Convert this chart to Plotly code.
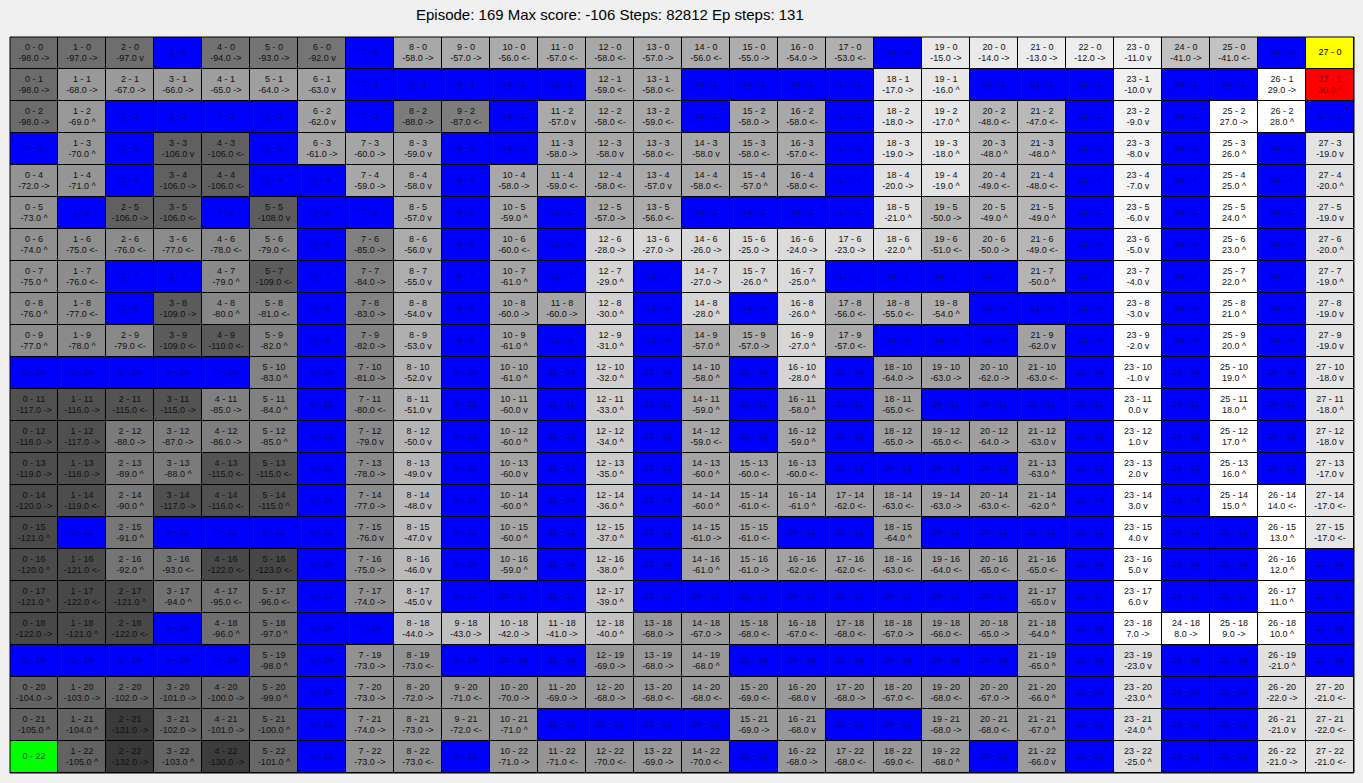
import numpy as np
import plotly.graph_objects as go

# ---------------- data ----------------
title_text = "Episode: 169 Max score: -106 Steps: 82812 Ep steps: 131"
n_cols = 28
n_rows = 23
goal_cell = (27, 0)
agent_cell = (27, 1)
start_cell = (0, 22)

# tokens: W = wall, G = goal, S = start, otherwise value + arrow (R ->, L <-, U ^, D v)
r00 = "-98R -97R -97D W -94R -93R -92D W -58R -57R -56L -57L -58L -57R -56L -55R -54R -53L W -15R -14R -13R -12R -11D -41R -41L W G"
r01 = "-98R -68R -67R -66R -65R -64R -63D W W W W W -59L -58L W W W W -17R -16U W W W -10D W W 29R 30U"
r02 = "-98R -69U W W W W -62D W -88R -87L W -57D -58L -59L W -58R -58L W -18R -17U -48L -47L W -9D W 27R 28U W"
r03 = "W -70U W -106D -106L W -61R -60R -59D W W -58R -58D -58L -58D -58L -57L W -19R -18U -48U -48U W -8D W 26U W -19D"
r04 = "-72R -71U W -106R -106L W W -59R -58D W -58R -59L -58L -57D -58L -57U -58L W -20R -19U -49L -48L W -7D W 25U W -20U"
r05 = "-73U W -106R -106L W -108D W W -57D W -59U W -57R -56L W W W W -21U -50R -49U -49U W -6D W 24U W -19D"
r06 = "-74U -75L -76L -77L -78L -79L W -85R -56D W -60L W -28R -27R -26R -25R -24R -23R -22U -51L -50R -49L W -5D W 23U W -20U"
r07 = "-75U -76L W W -79U -109L W -84R -55D W -61U W -29U W -27R -26U -25U W W W W -50U W -4D W 22U W -19U"
r08 = "-76U -77L W -109R -80U -81L W -83R -54D W -60R -60R -30U W -28U W -26U -56L -55L -54U W W W -3D W 21U W -19D"
r09 = "-77U -78U -79L -109L -110L -82U W -82R -53D W -61U W -31U W -57U -57R -27U -57L W W W -62D W -2D W 20U W -19D"
r10 = "W W W W W -83U W -81R -52D W -61U W -32U W -58U W -28U W -64R -63R -62R -63L W -1D W 19U W -18D"
r11 = "-117R -116R -115L -115R -85R -84U W -80L -51D W -60D W -33U W -59U W -58U W -65L W W W W 0D W 18U W -18U"
r12 = "-118R -117R -88R -87R -86R -85U W -79D -50D W -60U W -34U W -59L W -59U W -65R -65L -64R -63D W 1D W 17U W -18D"
r13 = "-119R -118R -89U -88U -115L -115L W -78R -49D W -60D W -35U W -60U -60L -60L W W W W -63U W 2D W 16U W -17D"
r14 = "-120R -119L -90U -117R -116L -115U W -77R -48D W -60U W -36U W -60U -61L -61U -62L -63L -63R -63L -62U W 3D W 15U 14L -17L"
r15 = "-121U W -91U W W W W -76D -47D W -60U W -37U W -61R -61L W W -64U W W W W 4D W W 13U -17L"
r16 = "-120U -121L -92U -93L -122L -123L W -75R -46D W -59U W -38U W -61U -61R -62L -62L -63L -64L -65L -65L W 5D W W 12U W"
r17 = "-121U -122L -121U -94U -95L -96L W -74R -45D W W W -39U W W W W W W W W -65D W 6D W W 11U W"
r18 = "-122R -121U -122L W -96U -97U W W -44R -43R -42R -41R -40U -68R -67R -68L -67L -68L -67R -66L -65R -64U W 7R 8R 9R 10U W"
r19 = "W W W W W -98U W -73R -73L W W W -69R -68R -68U W W W W W W -65U W -23D W W -21U W"
r20 = "-104R -103R -102R -101R -100R -99U W -73R -72R -71L -70R -69R -68R -68L -68L -69L -68D -68R -67L -68L -67R -66U W -23U W W -22R -21L"
r21 = "-105U -104U -131R -102R -101R -100U W -74R -73R -72L -71U W W W W -69R -68D W W -68R -68L -67U W -24U W W -21D -22L"
r22 = "S -105U -132R -103U -130R -101U W -73R -73L W -71R -71L -70L -69R -70L W -68R -68L -69L -68U W -66D W -25U W W -21R -21L"

row_strings = [r00, r01, r02, r03, r04, r05, r06, r07, r08, r09, r10, r11,
               r12, r13, r14, r15, r16, r17, r18, r19, r20, r21, r22]

arrow_text = {"R": "-&gt;", "L": "&lt;-", "U": "^", "D": "v"}

# ---------------- build ----------------
z_val = np.full((n_rows, n_cols), np.nan)
z_cat = np.full((n_rows, n_cols), np.nan)

single_x, single_y, single_t, single_c = [], [], [], []
two_x, two_y, lab_t, val_t, two_c = [], [], [], [], []

for r, s in enumerate(row_strings):
    toks = s.split()
    for c, tok in enumerate(toks):
        label = f"{c} - {r}"
        if tok == "W":
            z_cat[r, c] = 0
            single_x.append(c); single_y.append(r); single_t.append(label)
            single_c.append("rgba(0,0,0,0.5)")
        elif tok == "G":
            z_cat[r, c] = 1
            single_x.append(c); single_y.append(r); single_t.append(label)
            single_c.append("#000000")
        elif tok == "S":
            z_cat[r, c] = 3
            single_x.append(c); single_y.append(r); single_t.append(label)
            single_c.append("rgba(0,0,0,0.75)")
        else:
            v = float(tok[:-1])
            a = tok[-1]
            two_x.append(c); two_y.append(r)
            lab_t.append(label)
            val_t.append(f"{v:.1f} {arrow_text[a]}")
            if (c, r) == agent_cell:
                z_cat[r, c] = 2
                two_c.append("rgba(0,0,0,0.5)")
            else:
                z_val[r, c] = v
                two_c.append("#111111")

xs = list(range(n_cols))
ys = list(range(n_rows))

fig = go.Figure()

fig.add_trace(go.Heatmap(
    x=xs, y=ys, z=z_val, zmin=-170, zmax=0,
    colorscale=[[0, "rgb(0,0,0)"], [1, "rgb(255,255,255)"]],
    showscale=False, xgap=1, ygap=1, hoverinfo="skip"))

fig.add_trace(go.Heatmap(
    x=xs, y=ys, z=z_cat, zmin=0, zmax=3,
    colorscale=[[0, "#0000ff"], [1/6, "#0000ff"], [1/6, "#ffff00"], [0.5, "#ffff00"],
                [0.5, "#ff0000"], [5/6, "#ff0000"], [5/6, "#00ff00"], [1, "#00ff00"]],
    showscale=False, xgap=1, ygap=1, hoverinfo="skip"))

cell_font = "Arial, Liberation Sans, sans-serif"
fsize = 9

fig.add_trace(go.Scatter(
    x=single_x, y=single_y, text=single_t, mode="text",
    textposition="middle center",
    textfont=dict(family=cell_font, size=fsize, color=single_c),
    hoverinfo="skip", showlegend=False))

fig.add_trace(go.Scatter(
    x=two_x, y=[y - 0.17 for y in two_y], text=lab_t, mode="text",
    textposition="middle center",
    textfont=dict(family=cell_font, size=fsize, color=two_c),
    hoverinfo="skip", showlegend=False))

fig.add_trace(go.Scatter(
    x=two_x, y=[y + 0.19 for y in two_y], text=val_t, mode="text",
    textposition="middle center",
    textfont=dict(family=cell_font, size=fsize, color=two_c),
    hoverinfo="skip", showlegend=False))

fig.update_xaxes(range=[-0.5, n_cols - 0.5], visible=False, fixedrange=True)
fig.update_yaxes(range=[n_rows - 0.5, -0.5], visible=False, fixedrange=True)

fig.add_shape(type="rect", xref="paper", yref="paper", x0=0, y0=0, x1=1, y1=1,
              line=dict(color="#000000", width=1), fillcolor="rgba(0,0,0,0)")

fig.add_annotation(text=title_text, xref="paper", yref="paper",
                   x=(610 - 10) / 1344, y=1 + (37 - 14) / 736,
                   xanchor="center", yanchor="middle", showarrow=False,
                   font=dict(family="Arial, Liberation Sans, sans-serif", size=15, color="#000000"))

fig.update_layout(
    width=1363, height=783,
    margin=dict(l=10, r=9, t=37, b=10),
    paper_bgcolor="#f0f0f0", plot_bgcolor="#000000",
    showlegend=False,
)

fig.write_html("out.html", config={"displayModeBar": False})
